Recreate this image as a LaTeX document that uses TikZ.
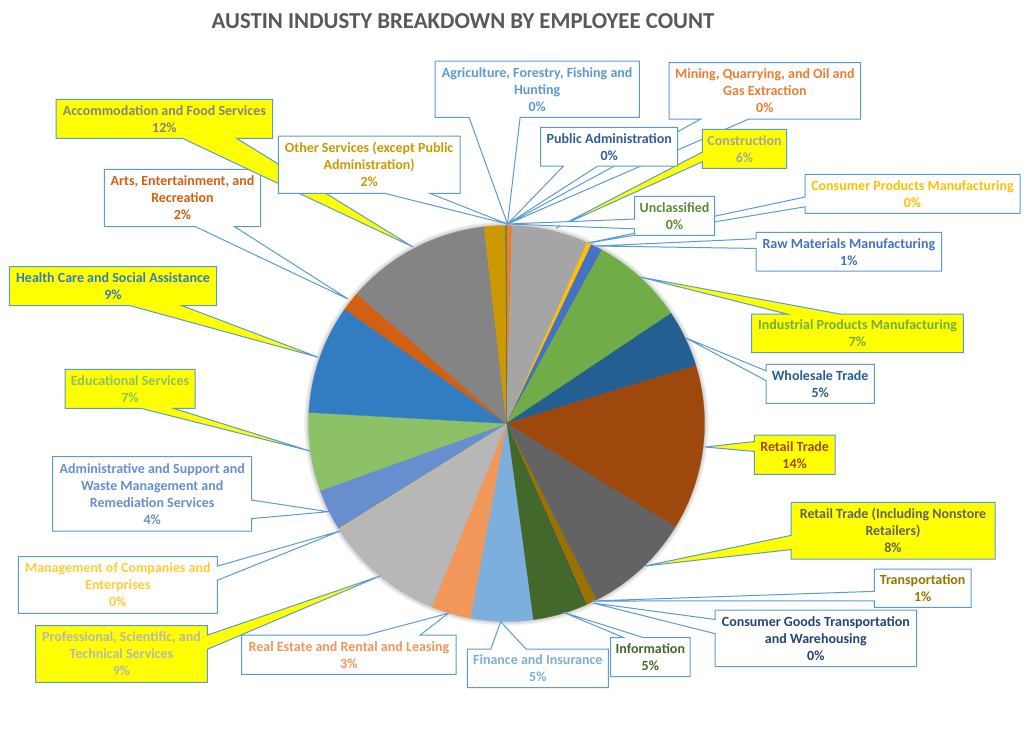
\documentclass[tikz,border=0pt]{standalone}
\usepackage{fontspec}
\setmainfont{Carlito}
\definecolor{cLine}{HTML}{5B9BD5}
\definecolor{cYel}{HTML}{FFFF00}
\definecolor{cTitle}{HTML}{595959}
\definecolor{cAgri}{HTML}{5B9BD5}
\definecolor{cMin}{HTML}{ED7D31}
\definecolor{cCon}{HTML}{A5A5A5}
\definecolor{cCP}{HTML}{FFC000}
\definecolor{cRaw}{HTML}{4472C4}
\definecolor{cInd}{HTML}{70AD47}
\definecolor{cWh}{HTML}{255E91}
\definecolor{cRet}{HTML}{9E480E}
\definecolor{cNon}{HTML}{636363}
\definecolor{cTr}{HTML}{997300}
\definecolor{cCG}{HTML}{264478}
\definecolor{cInf}{HTML}{43682B}
\definecolor{cFin}{HTML}{7CAFDD}
\definecolor{cRE}{HTML}{F1975A}
\definecolor{cPro}{HTML}{B7B7B7}
\definecolor{cMgt}{HTML}{FFCD33}
\definecolor{cAdm}{HTML}{698ED0}
\definecolor{cEdu}{HTML}{8CC168}
\definecolor{cHea}{HTML}{327DC2}
\definecolor{cArt}{HTML}{D26012}
\definecolor{cAcc}{HTML}{848484}
\definecolor{cOth}{HTML}{CC9A00}
\definecolor{cPub}{HTML}{335AA1}
\definecolor{cUnc}{HTML}{5A8A39}

\newcommand{\pieR}{148.5pt}
\newcommand{\pieslice}[3]{%
  \filldraw[fill=#3, draw=#3, line width=0.2pt] (c) -- ++({90-#1}:\pieR)
    arc[start angle={90-#1}, end angle={90-#2}, radius=\pieR] -- cycle;}

% #1 name, #2 x1, #3 y1, #4 x2, #5 y2, #6 tip coordinate, #7 fill, #8 text colour, #9 text
\newcommand{\wcall}[9]{%
  \path (#6); \pgfgetlastxy{\wcTx}{\wcTy}%
  \pgfmathsetmacro{\wcPx}{\wcTx/0.75}%
  \pgfmathsetmacro{\wcPy}{-1*(\wcTy)/0.75}%
  \pgfmathsetmacro{\wcW}{#4-#2}%
  \pgfmathsetmacro{\wcH}{#5-#3}%
  \pgfmathsetmacro{\wcDx}{(\wcPx-(#2+#4)/2)/\wcW}%
  \pgfmathsetmacro{\wcDy}{(\wcPy-(#3+#5)/2)/\wcH}%
  \pgfmathsetmacro{\wcXa}{\wcDx>0 ? #2+7*\wcW/12 : #2+2*\wcW/12}%
  \pgfmathsetmacro{\wcXb}{\wcDx>0 ? #2+10*\wcW/12 : #2+5*\wcW/12}%
  \pgfmathsetmacro{\wcYa}{\wcDy>0 ? #3+7*\wcH/12 : #3+2*\wcH/12}%
  \pgfmathsetmacro{\wcYb}{\wcDy>0 ? #3+10*\wcH/12 : #3+5*\wcH/12}%
  \pgfmathtruncatemacro{\wcS}{abs(\wcDx)>abs(\wcDy) ? (\wcDx>0 ? 2 : 4) : (\wcDy>0 ? 3 : 1)}%
  \def\wcT{}\def\wcR{}\def\wcB{}\def\wcL{}%
  \ifcase\wcS\or
    \edef\wcT{-- (\wcXa,#3) -- (#6) -- (\wcXb,#3)}%
  \or
    \edef\wcR{-- (#4,\wcYa) -- (#6) -- (#4,\wcYb)}%
  \or
    \edef\wcB{-- (\wcXb,#5) -- (#6) -- (\wcXa,#5)}%
  \or
    \edef\wcL{-- (#2,\wcYb) -- (#6) -- (#2,\wcYa)}%
  \fi
  \edef\wcPath{\noexpand\draw[callout, fill=#7] (#2,#3) \wcT -- (#4,#3) \wcR -- (#4,#5) \wcB -- (#2,#5) \wcL -- cycle;}%
  \wcPath
  \node[calltext, text=#8] (#1) at ({(#2+#4)/2},{(#3+#5)/2}) {#9};%
}

\begin{document}
\begin{tikzpicture}[x=0.75pt, y=-0.75pt,
  callout/.style={draw=cLine, line width=0.75pt, line join=miter},
  calltext/.style={font=\bfseries\fontsize{10.5}{12.75}\selectfont, align=center, inner sep=0pt}]
\fill[white] (0,0) rectangle (1031,733);
\useasboundingbox (0,0) rectangle (1031,733);

\node[font=\bfseries\fontsize{17.1}{20}\selectfont, text=cTitle, anchor=base] (title) at (463,28) {AUSTIN INDUSTY BREAKDOWN BY EMPLOYEE COUNT};

% pie
\coordinate (c) at (506.5,423.5);
\foreach \k in {1,...,6} \fill[black, opacity=0.03] (c) circle[radius=\pieR+\k*0.55pt];
\pieslice{0}{0.2}{cAgri}
\pieslice{0.2}{1.6}{cMin}
\pieslice{1.6}{24}{cCon}
\pieslice{24}{25.4}{cCP}
\pieslice{25.4}{28.8}{cRaw}
\pieslice{28.8}{56.2}{cInd}
\pieslice{56.2}{73}{cWh}
\pieslice{73}{121.5}{cRet}
\pieslice{121.5}{153}{cNon}
\pieslice{153}{156.3}{cTr}
\pieslice{156.3}{156.5}{cCG}
\pieslice{156.5}{172.3}{cInf}
\pieslice{172.3}{190.5}{cFin}
\pieslice{190.5}{202.2}{cRE}
\pieslice{202.2}{237.8}{cPro}
\pieslice{237.8}{238}{cMgt}
\pieslice{238}{250.2}{cAdm}
\pieslice{250.2}{273.2}{cEdu}
\pieslice{273.2}{305.3}{cHea}
\pieslice{305.3}{310.9}{cArt}
\pieslice{310.9}{353.5}{cAcc}
\pieslice{353.5}{359.8}{cOth}
\pieslice{359.8}{359.9}{cPub}
\pieslice{359.9}{360}{cUnc}

% callout tips on the pie
\coordinate (t1) at (507.5,224);
\coordinate (t2) at (507.5,224);
\coordinate (t3) at (556,228);
\coordinate (t4) at (588,243);
\coordinate (t5) at (596,246);
\coordinate (t6) at (640,277);
\coordinate (t7) at (686,338);
\coordinate (t8) at (705,447);
\coordinate (t9) at (645,566);
\coordinate (t10) at (591.7,601);
\coordinate (t11) at (593,603);
\coordinate (t12) at (563.3,612.3);
\coordinate (t13) at (500.7,621.7);
\coordinate (t14) at (448.3,613.3);
\coordinate (t15) at (380,576);
\coordinate (t16) at (340,531);
\coordinate (t17) at (328.3,511.7);
\coordinate (t18) at (310,451);
\coordinate (t19) at (318.3,357.3);
\coordinate (t20) at (348,299);
\coordinate (t21) at (413,247);
\coordinate (t22) at (507.5,224);
\coordinate (t23) at (507.5,224);
\coordinate (t24) at (507.5,224);

\wcall{agri}{435}{61}{639.3}{117.3}{t1}{white}{cAgri}{Agriculture, Forestry, Fishing and\\Hunting\\0\%}
\wcall{mining}{669}{62.7}{860.7}{119}{t2}{white}{cMin}{Mining, Quarrying, and Oil and\\Gas Extraction\\0\%}
\wcall{constr}{702.3}{129.3}{786.7}{168.3}{t3}{cYel}{cCon}{Construction\\6\%}
\wcall{consprod}{805}{174.3}{1020}{213.3}{t4}{white}{cCP}{Consumer Products Manufacturing\\0\%}
\wcall{raw}{756}{232.3}{941.7}{271}{t5}{white}{cRaw}{Raw Materials Manufacturing\\1\%}
\wcall{indus}{751.7}{314}{963.3}{352.7}{t6}{cYel}{cInd}{Industrial Products Manufacturing\\7\%}
\wcall{whole}{766}{364.3}{874.3}{403.3}{t7}{white}{cWh}{Wholesale Trade\\5\%}
\wcall{retail}{754.3}{435}{835}{474.3}{t8}{cYel}{cRet}{Retail Trade\\14\%}
\wcall{nonstore}{791}{502.3}{995}{559}{t9}{cYel}{cNon}{Retail Trade (Including Nonstore\\Retailers)\\8\%}
\wcall{transp}{874.3}{569}{971}{607.3}{t10}{white}{cTr}{Transportation\\1\%}
\wcall{cgoods}{715}{610}{916.7}{666.7}{t11}{white}{cCG}{Consumer Goods Transportation\\and Warehousing\\0\%}
\wcall{info}{610.7}{637.7}{690}{676.7}{t12}{white}{cInf}{Information\\5\%}
\wcall{finance}{467.3}{649}{608.3}{687.7}{t13}{white}{cFin}{Finance and Insurance\\5\%}
\wcall{realest}{241.7}{635}{456}{674.3}{t14}{white}{cRE}{Real Estate and Rental and Leasing\\3\%}
\wcall{prof}{35.7}{625.7}{207.3}{682.3}{t15}{cYel}{cPro}{Professional, Scientific, and\\Technical Services\\9\%}
\wcall{mgmt}{18.3}{556.7}{217.3}{613.3}{t16}{white}{cMgt}{Management of Companies and\\Enterprises\\0\%}
\wcall{admin}{52.7}{456.7}{251.7}{531}{t17}{white}{cAdm}{Administrative and Support and\\Waste Management and\\Remediation Services\\4\%}
\wcall{edu}{65}{369.3}{195}{408.3}{t18}{cYel}{cEdu}{Educational Services\\7\%}
\wcall{health}{9.3}{266.7}{216.7}{305.7}{t19}{cYel}{cHea}{Health Care and Social Assistance\\9\%}
\wcall{arts}{104.3}{169.3}{260.7}{226.7}{t20}{white}{cArt}{Arts, Entertainment, and\\Recreation\\2\%}
\wcall{accom}{56}{99.3}{272.7}{138.3}{t21}{cYel}{cAcc}{Accommodation and Food Services\\12\%}
\wcall{other}{278.3}{136}{460}{193.3}{t22}{white}{cOth}{Other Services (except Public\\Administration)\\2\%}
\wcall{pubadm}{540.7}{127.3}{677.7}{166}{t23}{white}{cPub}{Public Administration\\0\%}
\wcall{uncl}{634.5}{196.3}{714.5}{235.3}{t24}{white}{cUnc}{Unclassified\\0\%}
\end{tikzpicture}
\end{document}
